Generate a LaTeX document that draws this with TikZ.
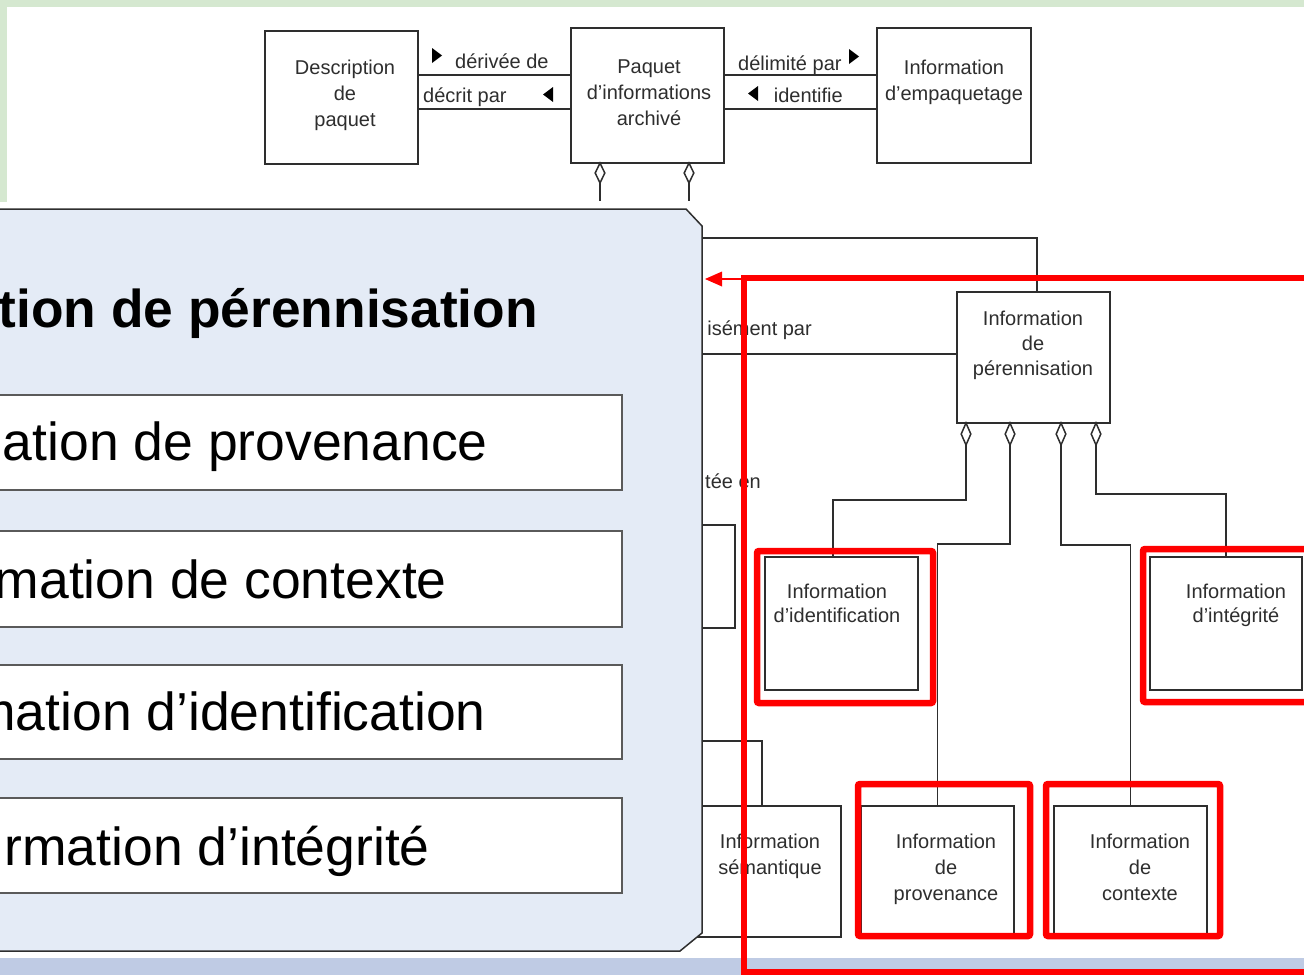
\documentclass[tikz,border=0pt]{standalone}
\usepackage{fontspec}
\setmainfont{Liberation Sans}
\usetikzlibrary{calc}
\definecolor{framegreen}{HTML}{D5E8D0}
\definecolor{bandblue}{HTML}{BFCBE4}
\definecolor{panelblue}{HTML}{E4EBF6}
\definecolor{ink}{HTML}{2E2E2E}
\definecolor{itemedge}{HTML}{5A5A5A}
\definecolor{alert}{HTML}{FF0000}
\tikzset{
  umlbox/.style={draw=ink, line width=1.6pt, fill=white, inner sep=0pt, outer sep=0pt, anchor=north west},
  umltext/.style={text=ink, font=\fontsize{20}{26}\selectfont, align=center, inner sep=0pt, anchor=north},
  reltext/.style={text=ink, font=\fontsize{20}{26}\selectfont, inner sep=0pt},
  wire/.style={draw=ink, line width=1.6pt},
  aggr/.style={draw=ink, fill=white, line width=1.5pt},
  flag/.style={fill=black},
  redframe/.style={draw=alert, line width=6.5pt, rounded corners=2pt},
  itembox/.style={draw=itemedge, fill=white, line width=1.3pt},
  bigtext/.style={font=\fontsize{53.5}{60}\selectfont, anchor=base east, inner sep=0pt},
}
% open diamond (aggregation end) hanging below a point
\newcommand\aggrmark[2]{\draw[aggr] #1 -- ++(4.8,#2/2) -- ++(-4.8,#2/2) -- ++(-4.8,-#2/2) -- cycle;}
\begin{document}
\begin{tikzpicture}[x=1pt,y=-1pt]
\useasboundingbox (0,0) rectangle (1304,975);
\clip (0,0) rectangle (1304,975);
% slide background
\fill[white] (0,0) rectangle (1304,975);
\fill[framegreen] (0,0) rectangle (1304,7);
\fill[framegreen] (0,0) rectangle (7,202);
\fill[bandblue] (0,958) rectangle (1304,975);

% ---- packaging row ----
\node[umlbox, minimum width=153, minimum height=133] (desc) at (265,31) {};
\node[umlbox, minimum width=153, minimum height=135] (aip) at (571,28) {};
\node[umlbox, minimum width=154, minimum height=135] (pkg) at (877,28) {};
\node[umltext] (descT) at (345,59.5) {Description\\de\\paquet};
\node[umltext] (aipT) at (649,59.5) {Paquet\\d’informations\\archivé};
\node[umltext] (pkgT) at (954,59.5) {Information\\d’empaquetage};

\draw[wire] (desc.east |- 0,75) -- (aip.west |- 0,75);
\draw[wire] (desc.east |- 0,109) -- (aip.west |- 0,109);
\draw[wire] (aip.east |- 0,75) -- (pkg.west |- 0,75);
\draw[wire] (aip.east |- 0,109) -- (pkg.west |- 0,109);
\node[reltext, anchor=base west] (r1) at (455,68) {dérivée de};
\node[reltext, anchor=base west] (r2) at (423,102) {décrit par};
\node[reltext, anchor=base west] (r3) at (738,70) {délimité par};
\node[reltext, anchor=base east] (r4) at (843,102) {identifie};
\fill[flag] (432,48) -- (442,55.5) -- (432,63) -- cycle;
\fill[flag] (553,87) -- (543,94.5) -- (553,102) -- cycle;
\fill[flag] (849,49) -- (859,56.5) -- (849,64) -- cycle;
\fill[flag] (758,86) -- (748,93.5) -- (758,101) -- cycle;

% aggregation legs of the archived package
\coordinate (legA) at (600,201);
\coordinate (legB) at (689,201);
\draw[wire] (aip.south -| legA) -- (legA);
\draw[wire] (aip.south -| legB) -- (legB);
\aggrmark{(aip.south -| legA)}{20}
\aggrmark{(aip.south -| legB)}{20}

% ---- preservation description information ----
\node[umlbox, minimum width=153, minimum height=131] (pdi) at (957,292) {};
\node[umltext, font=\fontsize{20}{25}\selectfont] (pdiT) at (1033,310.5) {Information\\de\\pérennisation};
\node[umlbox, minimum width=85, minimum height=103] (rep) at (650,525) {};
\node[umlbox, minimum width=191, minimum height=131] (sem) at (650,806) {};
\node[umltext] (semT) at (770,833.5) {Information\\sémantique};

\coordinate (inA) at (650,238);
\coordinate (inB) at (650,354);
\coordinate (inC) at (650,741);
\draw[wire] (inA) -| ($(pdi.north)+(3.5,0)$);
\draw[wire] (inB) -- (pdi.west |- inB);
\draw[wire] (inC) -| ($(sem.north west)+(112,0)$);
\node[reltext, anchor=base east] (r5) at (812,335) {isément par};
\node[reltext, anchor=base east] (r6) at (761,488) {tée en};

\node[umlbox, minimum width=153, minimum height=133] (ident) at (765,557) {};
\node[umlbox, minimum width=152, minimum height=133] (integ) at (1150,557) {};
\node[umlbox, minimum width=153, minimum height=129] (prov) at (861,806) {};
\node[umlbox, minimum width=153, minimum height=129] (ctx) at (1054,806) {};
\node[umltext, font=\fontsize{20}{24.5}\selectfont] (identT) at (837,583.5) {Information\\d’identification};
\node[umltext, font=\fontsize{20}{24.5}\selectfont] (integT) at (1236,583.5) {Information\\d’intégrité};
\node[umltext] (provT) at (946,833.5) {Information\\de\\provenance};
\node[umltext] (ctxT) at (1140,833.5) {Information\\de\\contexte};

\coordinate (dA) at (966,445);
\coordinate (dB) at (1010,445);
\coordinate (dC) at (1061,445);
\coordinate (dD) at (1096,445);
\draw[wire] (dA) -- ++(0,55) -| ($(ident.north)+(-8.5,0)$);
\draw[wire] (dB) -- ++(0,99) -| (prov.north);
\draw[wire] (dC) -- ++(0,100) -| (ctx.north);
\draw[wire] (dD) -- ++(0,49) -| (integ.north);
\aggrmark{(pdi.south -| dA)}{22}
\aggrmark{(pdi.south -| dB)}{22}
\aggrmark{(pdi.south -| dC)}{22}
\aggrmark{(pdi.south -| dD)}{22}

% ---- highlight frames ----
\draw[alert, line width=6.5pt] (1330,278) -- (744,278) -- (744,972) -- (1330,972);
\coordinate (hlstart) at (744,279);
\coordinate (hltip) at (705,279);
\draw[alert, line width=2pt] (hlstart) -- ($(hltip)+(15,0)$);
\fill[alert] (hltip) -- ++(17,-7.5) -- ++(0,15) -- cycle;
\draw[redframe] (757,551) rectangle (933,703);
\draw[redframe] (1143,549) rectangle (1330,702);
\draw[redframe] (858,784) rectangle (1030,936);
\draw[redframe] (1046,784) rectangle (1220,936);

% ---- callout panel ----
\filldraw[fill=panelblue, draw=ink, line width=1.5pt]
  (-20,209) -- (686,209) -- (702,226) -- (702,933) -- (680,951) -- (-20,951) -- cycle;
\node[bigtext, font=\bfseries\fontsize{53.3}{60}\selectfont] (title) at (538,327) {tion de pérennisation};
\draw[itembox] (-20,395) rectangle (622,490);
\draw[itembox] (-20,531) rectangle (622,627);
\draw[itembox] (-20,665) rectangle (622,759);
\draw[itembox] (-20,798) rectangle (622,893);
\node[bigtext] (i1) at (488,460) {ation de provenance};
\node[bigtext] (i2) at (447,598) {mation de contexte};
\node[bigtext] (i3) at (486,730) {mation d’identification};
\node[bigtext] (i4) at (430,865) {rmation d’intégrité};
\end{tikzpicture}
\end{document}
